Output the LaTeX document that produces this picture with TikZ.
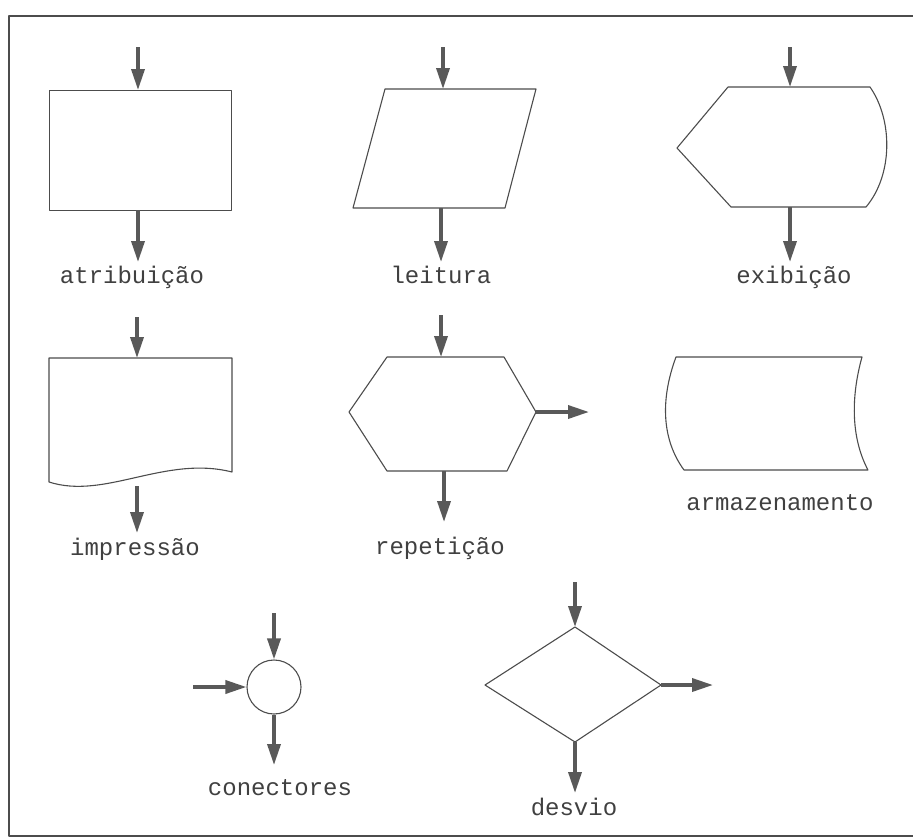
\documentclass[tikz,border=0pt]{standalone}
\usepackage{fontspec}
\setmonofont{Liberation Mono}
\usetikzlibrary{arrows.meta, positioning}

\begin{document}
\begin{tikzpicture}[x=1pt, y=-1pt, >={Triangle[length=21pt,width=13pt]},
	line join=round, font=\ttfamily\fontsize{24}{28}\selectfont,
	flow/.style={->, line width=3.5pt, draw=black!65},
	shp/.style={draw=black!70, line width=1.1pt},
	lbl/.style={anchor=base, text=black!75}]
\useasboundingbox (0,0) rectangle (913,838);
% outer frame
\draw[black!70, line width=1.3pt] (9,16) rectangle (925,836);

%========================
% Row 1
%========================
% atribuicao: plain box
\draw[shp] (49.5,90.5) rectangle (231.5,210.5);
\coordinate (atrib-in) at (138,47);
\coordinate (atrib-n) at (138,90);
\coordinate (atrib-s) at (138,210);
\coordinate (atrib-out) at (138,262);
\draw[flow] (atrib-in) -- (atrib-n);
\draw[flow] (atrib-s) -- (atrib-out);
\node[lbl] (atrib-lbl) at (132,283) {atribuição};

% leitura: parallelogram
\draw[shp] (385,89) -- (536,89) -- (505,208) -- (353,208) -- cycle;
\coordinate (leit-in) at (443,47);
\coordinate (leit-n) at (443,89);
\coordinate (leit-s) at (441,208);
\coordinate (leit-out) at (441,262);
\draw[flow] (leit-in) -- (leit-n);
\draw[flow] (leit-s) -- (leit-out);
\node[lbl] (leit-lbl) at (441,283) {leitura};

% exibicao: display shape
\draw[shp] (728,87) -- (870,87) .. controls (893,120) and (893,175) .. (866,207)
	-- (731,207) -- (677,148) -- cycle;
\coordinate (exib-in) at (790,47);
\coordinate (exib-n) at (790,87);
\coordinate (exib-s) at (790,207);
\coordinate (exib-out) at (790,262);
\draw[flow] (exib-in) -- (exib-n);
\draw[flow] (exib-s) -- (exib-out);
\node[lbl] (exib-lbl) at (794,283) {exibição};

%========================
% Row 2
%========================
% impressao: document with wavy bottom
\draw[shp] (49,358) -- (232,358) -- (232,472)
	.. controls (165,455) and (105,500) .. (49,482) -- cycle;
\coordinate (impr-in) at (137,317);
\coordinate (impr-n) at (137,358);
\coordinate (impr-s) at (137,486);
\coordinate (impr-out) at (137,533);
\draw[flow] (impr-in) -- (impr-n);
\draw[flow] (impr-s) -- (impr-out);
\node[lbl] (impr-lbl) at (135,555) {impressão};

% repeticao: hexagon
\draw[shp] (387,357) -- (504,357) -- (536,412) -- (507,471) -- (387,471)
	-- (349,412) -- cycle;
\coordinate (rep-in) at (441,315);
\coordinate (rep-n) at (441,357);
\coordinate (rep-e) at (536,412);
\coordinate (rep-east) at (589,412);
\coordinate (rep-s) at (444,471);
\coordinate (rep-out) at (444,522);
\draw[flow] (rep-in) -- (rep-n);
\draw[flow] (rep-e) -- (rep-east);
\draw[flow] (rep-s) -- (rep-out);
\node[lbl] (rep-lbl) at (440,554) {repetição};

% armazenamento: both sides bowed to the left
\draw[shp] (676,357) -- (862,357) .. controls (850,400) and (852,440) .. (868,470)
	-- (684,470) .. controls (662,440) and (660,400) .. cycle;
\node[lbl] (arm-lbl) at (780,510) {armazenamento};

%========================
% Row 3
%========================
% conectores: small circle
\node[shp, circle, minimum size=54pt, inner sep=0pt] (con) at (274,687) {};
\coordinate (con-in) at (274,613);
\coordinate (con-west) at (193,687);
\coordinate (con-out) at (274,765);
\draw[flow] (con-in) -- (con.north);
\draw[flow] (con-west) -- (con.west);
\draw[flow] (con.south) -- (con-out);
\node[lbl] (con-lbl) at (280,795) {conectores};

% desvio: decision diamond
\draw[shp] (575,627) -- (661,685) -- (575,742) -- (485,685) -- cycle;
\coordinate (desv-in) at (575,582);
\coordinate (desv-n) at (575,627);
\coordinate (desv-e) at (661,685);
\coordinate (desv-east) at (713,685);
\coordinate (desv-s) at (575,742);
\coordinate (desv-out) at (575,793);
\draw[flow] (desv-in) -- (desv-n);
\draw[flow] (desv-e) -- (desv-east);
\draw[flow] (desv-s) -- (desv-out);
\node[lbl] (desv-lbl) at (574,815) {desvio};
\end{tikzpicture}
\end{document}
